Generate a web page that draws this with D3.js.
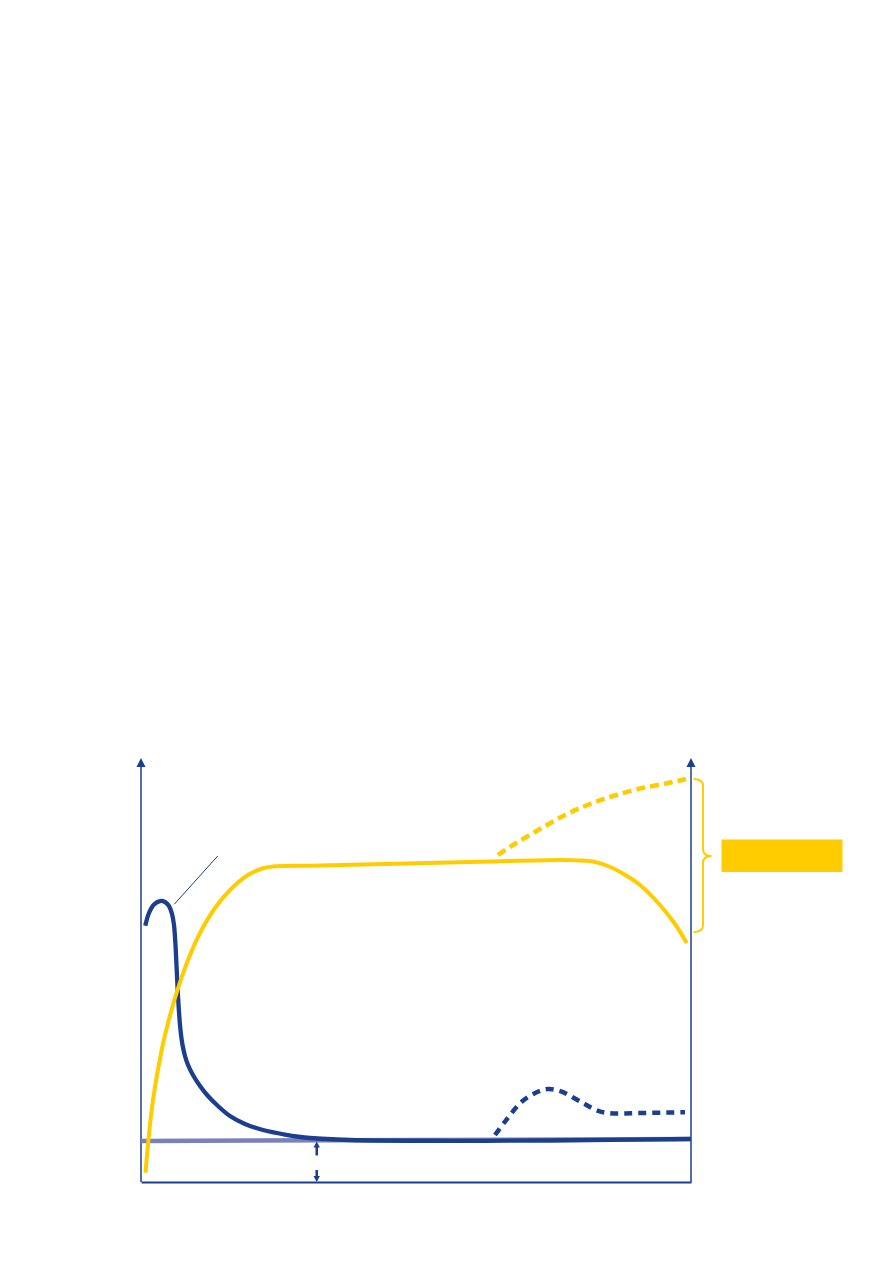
<!DOCTYPE html>
<html>
<head>
<meta charset="utf-8">
<script src="https://cdn.jsdelivr.net/npm/d3@7"></script>
<style>
  html, body { margin: 0; padding: 0; background: #ffffff; }
  svg { display: block; }
</style>
</head>
<body>
<div id="chart"></div>
<script>
// ---- Data (x: 0..100 time, y: 0..100 level) ----
const blueSolidX = [0.78, 1.45, 2.36, 3.45, 4.36, 5.09, 5.64, 6.0, 6.27, 6.45, 6.67, 6.91, 7.18, 7.55, 8.0, 8.55, 9.45, 10.73, 12.18, 14.0, 16.18, 18.91, 22.18, 26.18, 30.73, 38.0, 56.18, 74.36, 100];
const blueSolidY = [60.45, 63.44, 65.45, 66.27, 66.04, 65.09, 63.21, 60.61, 55.9, 51.18, 45.28, 40.09, 35.85, 32.31, 29.72, 27.59, 25.24, 22.64, 20.28, 17.92, 15.57, 13.68, 12.26, 11.2, 10.38, 9.91, 9.72, 9.79, 10.14];

const blueDashX = [64.36, 66.18, 69.22, 71.95, 74.05, 76.49, 80.42, 83.15, 85.27, 90.73, 98.91];
const blueDashY = [11.08, 14.22, 18.94, 21.16, 21.93, 21.3, 18.56, 16.75, 16.2, 16.27, 16.44];

const yellowSolidX = [0.82, 1.33, 2.18, 3.76, 4.91, 6.18, 8.55, 10.73, 13.45, 16.18, 19.45, 22.18, 24.36, 32.55, 61.64, 76.18, 79.82, 82.55, 84.91, 87.45, 90.73, 94.36, 97.09, 99.22];
const yellowSolidY = [2.19, 9.67, 19.34, 31.13, 37.5, 43.4, 52.36, 58.73, 64.62, 68.87, 72.41, 73.99, 74.46, 74.65, 75.54, 75.94, 75.83, 75.47, 74.53, 72.88, 70.05, 65.33, 60.85, 56.37];

const yellowDashX = [64.91, 67.64, 72.55, 77.45, 81.64, 85.82, 90.73, 95.45, 99.09];
const yellowDashY = [77.12, 79.48, 83.25, 86.79, 89.15, 91.04, 92.81, 93.99, 95.05];

const baselineX = [0, 100];
const baselineY = [9.67, 10.14];

const pointerX = [6.05, 13.95];
const pointerY = [65.5, 76.89];

const gapMarkerX = [31.95];
const gapMarkerY = [0, 9.8];

// ---- Layout ----
const W = 893, H = 1263;
const mLeft = 141, mRight = 691, mTop = 758, mBottom = 1182;
const navy = "#1b3f8e", yellow = "#ffcc00", lilac = "#7a80bd";

const x = d3.scaleLinear().domain([0, 100]).range([mLeft, mRight]);
const y = d3.scaleLinear().domain([0, 100]).range([mBottom, mTop]);

const svg = d3.select("#chart").append("svg").attr("width", W).attr("height", H);

const zip = (xs, ys) => xs.map((v, i) => [v, ys[i]]);
const line = d3.line().x(d => x(d[0])).y(d => y(d[1])).curve(d3.curveCatmullRom.alpha(0.5));
const straight = d3.line().x(d => x(d[0])).y(d => y(d[1]));

// Axes (no ticks), with arrow heads
const axisG = svg.append("g");
axisG.append("g").attr("transform", `translate(0,${mBottom})`)
  .call(d3.axisBottom(x).ticks(0).tickSizeOuter(0))
  .select(".domain").attr("stroke", navy).attr("stroke-width", 2);
axisG.append("line").attr("x1", x(0)).attr("x2", x(0)).attr("y1", y(0)).attr("y2", y(100) + 6)
  .attr("stroke", navy).attr("stroke-width", 1.5);
axisG.append("line").attr("x1", x(100)).attr("x2", x(100)).attr("y1", y(0)).attr("y2", y(100) + 6)
  .attr("stroke", navy).attr("stroke-width", 1.5);
[0, 100].forEach(v => {
  const cx = x(v), ty = y(100);
  axisG.append("path").attr("d", `M${cx},${ty} L${cx - 4.5},${ty + 9} L${cx + 4.5},${ty + 9} Z`).attr("fill", navy);
});

// Baseline (light)
svg.append("path").datum(zip(baselineX, baselineY)).attr("d", straight)
  .attr("fill", "none").attr("stroke", lilac).attr("stroke-width", 4.5);

// Blue solid
svg.append("path").datum(zip(blueSolidX, blueSolidY)).attr("d", line)
  .attr("fill", "none").attr("stroke", navy).attr("stroke-width", 4.3);

// Blue dashed
svg.append("path").datum(zip(blueDashX, blueDashY)).attr("d", line)
  .attr("fill", "none").attr("stroke", navy).attr("stroke-width", 4.5)
  .attr("stroke-dasharray", "8,6");

// Yellow solid
svg.append("path").datum(zip(yellowSolidX, yellowSolidY)).attr("d", line)
  .attr("fill", "none").attr("stroke", yellow).attr("stroke-width", 4);

// Yellow dashed
svg.append("path").datum(zip(yellowDashX, yellowDashY)).attr("d", line)
  .attr("fill", "none").attr("stroke", yellow).attr("stroke-width", 4.5)
  .attr("stroke-dasharray", "9,5");

// Pointer line
svg.append("path").datum(zip(pointerX, pointerY)).attr("d", straight)
  .attr("fill", "none").attr("stroke", navy).attr("stroke-width", 1);

// Gap marker (dashed double arrow)
{
  const gx = x(gapMarkerX[0]);
  const y0 = y(gapMarkerY[0]), y1 = y(gapMarkerY[1]);
  const g = svg.append("g");
  g.append("line").attr("x1", gx).attr("x2", gx).attr("y1", y1 + 5).attr("y2", y1 + 15)
    .attr("stroke", navy).attr("stroke-width", 2.5);
  g.append("line").attr("x1", gx).attr("x2", gx).attr("y1", y0 - 12).attr("y2", y0 - 4)
    .attr("stroke", navy).attr("stroke-width", 2.5);
  g.append("path").attr("d", `M${gx},${y1 + 1} L${gx - 3.2},${y1 + 7} L${gx + 3.2},${y1 + 7} Z`).attr("fill", navy);
  g.append("path").attr("d", `M${gx},${y0} L${gx - 3.2},${y0 - 6} L${gx + 3.2},${y0 - 6} Z`).attr("fill", navy);
}

// Brace spanning the yellow outcomes on the right
{
  const bx = x(100) + 2.5;
  const yTop = y(yellowDashY[yellowDashY.length - 1]);
  const yBot = y(yellowSolidY[yellowSolidY.length - 1]) - 11;
  const ym = (yTop + yBot) / 2 + 0.5;
  const vx = bx + 9.5, tipx = bx + 18;
  const r = 7;
  const d = `M${bx},${yTop} Q${vx},${yTop} ${vx},${yTop + r} L${vx},${ym - r} Q${vx},${ym} ${tipx},${ym}` +
            ` Q${vx},${ym} ${vx},${ym + r} L${vx},${yBot - r} Q${vx},${yBot} ${bx},${yBot}`;
  svg.append("path").attr("d", d).attr("fill", "none").attr("stroke", yellow).attr("stroke-width", 2);

  // Label box
  svg.append("rect").attr("x", tipx + 10).attr("y", ym - 16.5).attr("width", 121).attr("height", 32.5)
    .attr("fill", yellow);
}
</script>
</body>
</html>
